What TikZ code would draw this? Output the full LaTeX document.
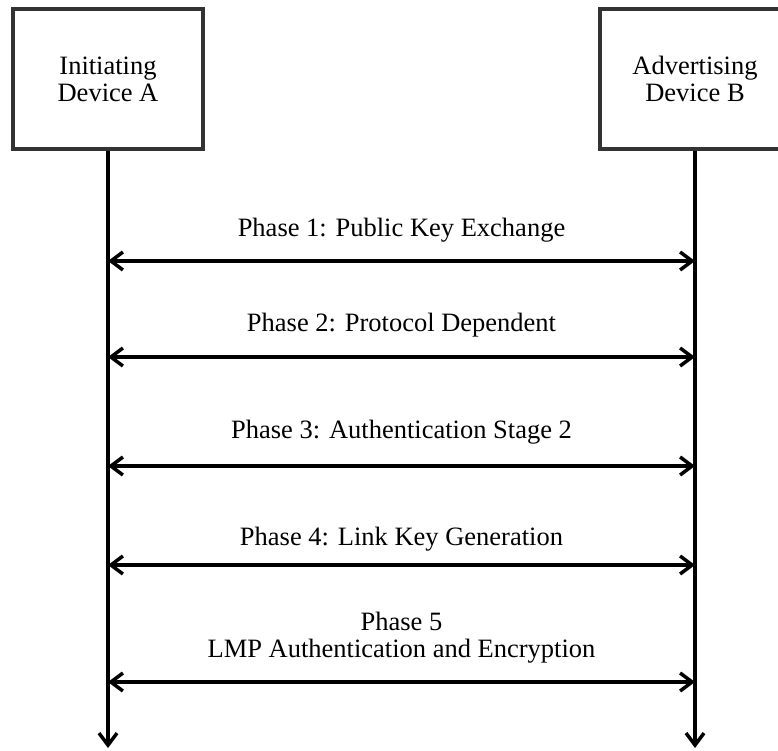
\documentclass[tikz,border=0pt]{standalone}
\usepackage{fontspec}
\setmainfont{Liberation Serif}
\usetikzlibrary{arrows.meta}

\begin{document}
\begin{tikzpicture}[x=1pt,y=-1pt,font=\fontsize{26.5}{27}\selectfont]
	\useasboundingbox (0,0) rectangle (778,751);
		\begin{scope}[every node/.style={draw=black!80,line width=4pt,minimum width=190pt,minimum height=140pt,align=center}]
    \node (devA) at (108,79) {Initiating\\Device A};
    \node (devB) at (695,79) {Advertising\\Device B};
	\end{scope}

    \coordinate (endA) at (108,748);
    \coordinate (endB) at (695,748);
    \coordinate (a1) at (108,261);
    \coordinate (b1) at (695,261);
    \coordinate (a2) at (108,357);
    \coordinate (b2) at (695,357);
    \coordinate (a3) at (108,466);
    \coordinate (b3) at (695,466);
    \coordinate (a4) at (108,565);
    \coordinate (b4) at (695,565);
    \coordinate (a5) at (108,682);
    \coordinate (b5) at (695,682);

	\begin{scope}[>={Straight Barb[length=12pt,width=18pt]},
              every node/.style={inner sep=0pt,align=center},
              every edge/.style={draw=black,line width=3.5pt}]
    \path [->] (devA) edge (endA);
    \path [->] (devB) edge (endB);
    \path [<->] (a1) edge node [above=17pt] {Phase 1: Public Key Exchange} (b1);
	\path [<->] (a2) edge node [above=18pt] {Phase 2: Protocol Dependent} (b2);
    \path [<->] (a3) edge node [above=20pt] {Phase 3: Authentication Stage 2} (b3);
    \path [<->] (a4) edge node [above=12pt] {Phase 4: Link Key Generation} (b4);
    \path [<->] (a5) edge node [above=17pt] {Phase 5\\LMP Authentication and Encryption} (b5);
\end{scope}
\end{tikzpicture}
\end{document}
